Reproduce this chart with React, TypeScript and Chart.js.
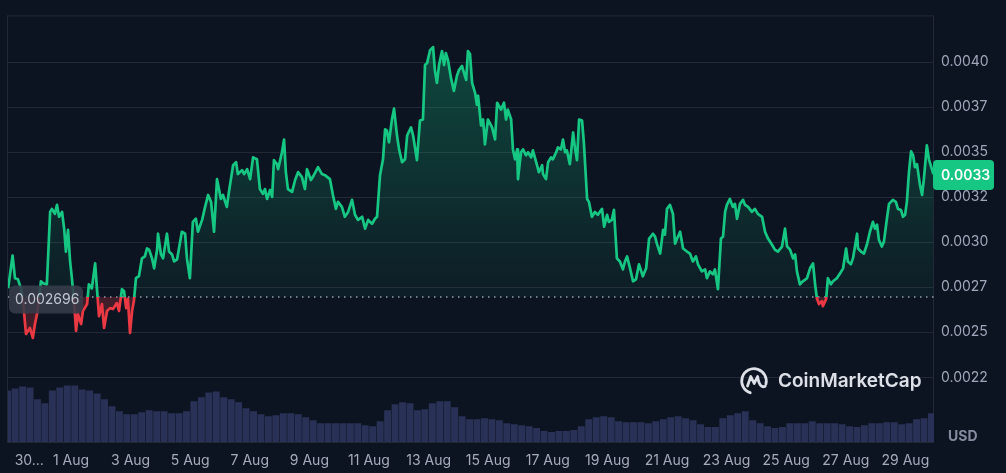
import React, { useEffect, useRef } from "react";
import { Chart, registerables } from "chart.js";

Chart.register(...registerables);

// ---- data (time in days of August; 0 = 31 Jul 00:00) ----
const priceDays = [
  -1.11, -0.96, -0.88, -0.78, -0.68, -0.61, -0.51, -0.38, -0.28, -0.21,
  -0.14, -0.07, -0.01, 0.06, 0.19, 0.3, 0.36, 0.46, 0.53, 0.6,
  0.7, 0.77, 0.83, 0.9, 0.97, 1.03, 1.1, 1.17, 1.23, 1.34,
  1.4, 1.54, 1.6, 1.7, 1.81, 1.87, 1.94, 2.04, 2.11, 2.21,
  2.31, 2.41, 2.54, 2.61, 2.71, 2.78, 2.85, 2.91, 2.98, 3.05,
  3.11, 3.18, 3.28, 3.38, 3.48, 3.55, 3.62, 3.72, 3.79, 3.89,
  3.92, 4.02, 4.09, 4.22, 4.29, 4.39, 4.46, 4.56, 4.72, 4.83,
  4.89, 4.99, 5.09, 5.19, 5.26, 5.4, 5.5, 5.6, 5.7, 5.8,
  5.9, 6.03, 6.1, 6.23, 6.3, 6.44, 6.54, 6.6, 6.74, 6.81,
  6.91, 7.01, 7.11, 7.24, 7.34, 7.44, 7.51, 7.58, 7.68, 7.75,
  7.81, 7.91, 7.95, 8.08, 8.15, 8.21, 8.28, 8.42, 8.52, 8.62,
  8.75, 8.85, 8.92, 9.05, 9.15, 9.29, 9.42, 9.52, 9.69, 9.79,
  9.89, 9.96, 10.09, 10.19, 10.3, 10.43, 10.53, 10.63, 10.77, 10.87,
  10.97, 11.1, 11.2, 11.27, 11.37, 11.47, 11.54, 11.6, 11.67, 11.77,
  11.84, 11.94, 12.01, 12.11, 12.21, 12.28, 12.41, 12.48, 12.61, 12.71,
  12.81, 12.88, 12.95, 13.05, 13.15, 13.21, 13.28, 13.35, 13.45, 13.52,
  13.58, 13.65, 13.75, 13.85, 13.95, 14.02, 14.12, 14.19, 14.26, 14.32,
  14.39, 14.46, 14.56, 14.62, 14.66, 14.76, 14.83, 14.89, 14.99, 15.13,
  15.23, 15.3, 15.43, 15.53, 15.6, 15.66, 15.77, 15.83, 15.9, 15.97,
  16.0, 16.1, 16.17, 16.27, 16.34, 16.44, 16.5, 16.64, 16.7, 16.81,
  16.84, 16.94, 17.01, 17.11, 17.17, 17.28, 17.34, 17.44, 17.51, 17.58,
  17.64, 17.74, 17.85, 17.91, 17.98, 18.05, 18.15, 18.21, 18.32, 18.38,
  18.48, 18.58, 18.68, 18.82, 18.89, 18.99, 19.05, 19.15, 19.22, 19.32,
  19.42, 19.52, 19.59, 19.66, 19.76, 19.86, 19.96, 20.06, 20.19, 20.3,
  20.4, 20.53, 20.6, 20.66, 20.77, 20.87, 20.93, 21.0, 21.1, 21.2,
  21.27, 21.34, 21.44, 21.54, 21.67, 21.77, 21.87, 21.97, 22.04, 22.17,
  22.28, 22.34, 22.44, 22.54, 22.61, 22.71, 22.81, 22.88, 22.95, 23.01,
  23.11, 23.21, 23.28, 23.35, 23.45, 23.55, 23.62, 23.72, 23.85, 23.95,
  24.05, 24.19, 24.29, 24.39, 24.52, 24.62, 24.72, 24.86, 24.96, 25.03,
  25.13, 25.23, 25.3, 25.36, 25.46, 25.56, 25.7, 25.8, 25.9, 25.97,
  26.03, 26.1, 26.2, 26.23, 26.34, 26.4, 26.5, 26.57, 26.7, 26.81,
  26.91, 27.01, 27.07, 27.17, 27.24, 27.38, 27.41, 27.51, 27.61, 27.71,
  27.81, 27.91, 27.98, 28.05, 28.11, 28.21, 28.28, 28.38, 28.45, 28.58,
  28.68, 28.75, 28.85, 28.92, 28.99, 29.05, 29.12, 29.19, 29.26, 29.32,
  29.39, 29.49, 29.56, 29.62, 29.72, 29.79, 29.89, 29.94,
];

const priceValues = [
  0.002744, 0.002926, 0.0028, 0.002794, 0.002744, 0.002673, 0.002491, 0.002524, 0.002469, 0.002546,
  0.002601, 0.002689, 0.002783, 0.002772, 0.002766, 0.003168, 0.003185, 0.003157, 0.003207, 0.003141,
  0.003168, 0.003075, 0.002948, 0.003069, 0.002893, 0.0028, 0.002673, 0.002508, 0.002601, 0.002546,
  0.002618, 0.002656, 0.002766, 0.002744, 0.002882, 0.002744, 0.00259, 0.002656, 0.002524, 0.002618,
  0.002634, 0.002629, 0.002662, 0.002618, 0.002739, 0.002728, 0.002634, 0.002684, 0.002497, 0.002618,
  0.002673, 0.0028, 0.002811, 0.00291, 0.002921, 0.002965, 0.002959, 0.00291, 0.002855, 0.002959,
  0.003047, 0.002932, 0.00291, 0.003047, 0.002948, 0.002932, 0.002893, 0.002904, 0.003058, 0.003047,
  0.00291, 0.0028, 0.003113, 0.00313, 0.003058, 0.003124, 0.003196, 0.003262, 0.003224, 0.003058,
  0.00335, 0.00324, 0.003262, 0.003196, 0.003279, 0.003427, 0.003444, 0.003378, 0.0034, 0.003378,
  0.003405, 0.00335, 0.003471, 0.00346, 0.003295, 0.003268, 0.003295, 0.00324, 0.00329, 0.003251,
  0.003455, 0.003433, 0.003405, 0.003499, 0.00357, 0.003389, 0.003295, 0.003279, 0.003345, 0.003389,
  0.003361, 0.003295, 0.003405, 0.003345, 0.003372, 0.003416, 0.003378, 0.003372, 0.00335, 0.003262,
  0.003185, 0.003224, 0.003196, 0.003141, 0.003168, 0.003235, 0.003152, 0.003124, 0.003141, 0.003075,
  0.003124, 0.003102, 0.00313, 0.003141, 0.003372, 0.00346, 0.003626, 0.00362, 0.003554, 0.003681,
  0.003741, 0.003592, 0.003515, 0.003444, 0.00346, 0.003592, 0.003637, 0.003592, 0.003455, 0.003675,
  0.003681, 0.003983, 0.003994, 0.004066, 0.004083, 0.003956, 0.003884, 0.003983, 0.004061, 0.003983,
  0.00405, 0.004011, 0.003912, 0.00384, 0.003923, 0.003956, 0.003978, 0.003939, 0.003901, 0.004061,
  0.004044, 0.003884, 0.003829, 0.003763, 0.003813, 0.003648, 0.003681, 0.003543, 0.003681, 0.003637,
  0.00357, 0.003774, 0.003736, 0.003774, 0.003681, 0.003736, 0.003681, 0.003515, 0.00346, 0.003515,
  0.00335, 0.003499, 0.003515, 0.003482, 0.003499, 0.003471, 0.00351, 0.003427, 0.003389, 0.003427,
  0.003378, 0.00335, 0.003444, 0.003471, 0.00346, 0.003499, 0.003526, 0.003515, 0.00357, 0.003499,
  0.00351, 0.003433, 0.003609, 0.003526, 0.003455, 0.003681, 0.003675, 0.003554, 0.00324, 0.003224,
  0.003141, 0.003168, 0.003152, 0.003185, 0.003086, 0.003152, 0.003113, 0.003124, 0.003179, 0.00291,
  0.002893, 0.002849, 0.002893, 0.002921, 0.002855, 0.002783, 0.002794, 0.002877, 0.002811, 0.002855,
  0.00302, 0.003047, 0.003031, 0.002992, 0.002937, 0.003069, 0.003042, 0.003185, 0.003207, 0.003157,
  0.002992, 0.00302, 0.003058, 0.002965, 0.002948, 0.002937, 0.002893, 0.002921, 0.002877, 0.002838,
  0.002849, 0.0028, 0.002838, 0.002822, 0.002849, 0.002739, 0.00302, 0.003031, 0.003168, 0.003207,
  0.00324, 0.003196, 0.003213, 0.00313, 0.003213, 0.003235, 0.003207, 0.003196, 0.003168, 0.003185,
  0.003157, 0.003141, 0.003058, 0.00302, 0.002987, 0.002959, 0.002948, 0.002976, 0.003075, 0.002976,
  0.002959, 0.00291, 0.002932, 0.002838, 0.002766, 0.002783, 0.0028, 0.002855, 0.002882, 0.002766,
  0.002689, 0.002656, 0.002673, 0.002645, 0.002684, 0.0028, 0.002766, 0.002783, 0.0028, 0.002827,
  0.002855, 0.002965, 0.002893, 0.002877, 0.00291, 0.003047, 0.002965, 0.002948, 0.002937, 0.002987,
  0.003058, 0.003113, 0.003075, 0.003097, 0.003014, 0.002976, 0.003003, 0.00313, 0.003213, 0.003235,
  0.003224, 0.003185, 0.003179, 0.003141, 0.003152, 0.003224, 0.003389, 0.003504, 0.003482, 0.003416,
  0.003433, 0.003317, 0.003262, 0.00335, 0.003537, 0.00346, 0.003405, 0.003378,
];

// 24h volume, thousand USD, one bar every 6 hours
const volStartDay = -1.125;
const volStepDay = 0.25;
const volumesK = [
  52, 54, 56, 55, 43, 39, 52, 55, 57, 57,
  53, 52, 49, 43, 36, 31, 28, 28, 30, 32,
  31, 31, 29, 29, 31, 41, 45, 50, 51, 45,
  43, 40, 34, 31, 28, 26, 27, 29, 29, 28,
  25, 22, 19, 19, 19, 19, 19, 19, 17, 16,
  21, 32, 38, 40, 39, 32, 33, 39, 41, 41,
  35, 26, 23, 23, 24, 23, 22, 19, 18, 17,
  16, 14, 11, 10, 11, 11, 12, 16, 23, 25,
  26, 25, 21, 20, 20, 20, 19, 21, 23, 25,
  26, 24, 22, 18, 15, 15, 24, 27, 29, 31,
  22, 19, 16, 14, 15, 19, 19, 19, 21, 19,
  19, 19, 18, 16, 15, 17, 19, 19, 20, 20,
  18, 19, 23, 24, 29,
];

const baseline = 0.002696;
const baselineLabel = "0.002696";
const lastPriceLabel = "0.0033";
const currencyLabel = "USD";
const brandLabel = "CoinMarketCap";

const yTickValues = [0.00225, 0.0025, 0.00275, 0.003, 0.00325, 0.0035, 0.00375, 0.004];
const yTickLabels = ["0.0022", "0.0025", "0.0027", "0.0030", "0.0032", "0.0035", "0.0037", "0.0040"];
const xTickDays = [-0.4, 1, 3, 5, 7, 9, 11, 13, 15, 17, 19, 21, 23, 25, 27, 29];
const xTickLabels = ["30...", "1 Aug", "3 Aug", "5 Aug", "7 Aug", "9 Aug", "11 Aug", "13 Aug", "15 Aug", "17 Aug", "19 Aug", "21 Aug", "23 Aug", "25 Aug", "27 Aug", "29 Aug"];

const xMin = -1.114;
const xMax = 29.96;
const yMin = 0.001891;
const yMax = 0.0042588;
const volAxisMax = 430;

// ---- styles ----
const GREEN = "#16c784";
const RED = "#ea3943";
const BG = "#0d1421";
const GRID = "#232836";
const FONT = "Inter, 'Noto Sans', sans-serif";

function drawLogo(ctx: CanvasRenderingContext2D, cx: number, cy: number) {
  ctx.save();
  ctx.strokeStyle = "#dde0e7";
  ctx.lineWidth = 2.8;
  ctx.lineCap = "round";
  ctx.lineJoin = "round";
  ctx.beginPath();
  ctx.arc(cx, cy, 12.3, 0.6 * Math.PI, 2.08 * Math.PI);
  ctx.stroke();
  ctx.beginPath();
  ctx.moveTo(cx - 6.5, cy + 5);
  ctx.lineTo(cx - 3.2, cy - 4.5);
  ctx.lineTo(cx + 0.2, cy + 2.5);
  ctx.lineTo(cx + 3.6, cy - 4.5);
  ctx.quadraticCurveTo(cx + 5.5, cy + 8, cx + 11.2, cy + 5.2);
  ctx.stroke();
  ctx.fillStyle = "#dde0e7";
  ctx.font = `600 19px ${FONT}`;
  ctx.textAlign = "left";
  ctx.textBaseline = "middle";
  ctx.fillText(brandLabel, cx + 24, cy + 0.5);
  ctx.restore();
}

const overlayPlugin = {
  id: "cmcOverlay",
  beforeDatasetsDraw(chart: any) {
    const { ctx, chartArea: a } = chart;
    ctx.save();
    ctx.strokeStyle = GRID;
    ctx.lineWidth = 1;
    ctx.strokeRect(a.left - 0.5, a.top + 0.5, a.right - a.left, a.bottom - a.top);
    ctx.restore();
    drawLogo(ctx, a.right - 180, a.bottom - 61);
  },
  afterDatasetsDraw(chart: any) {
    const { ctx, chartArea: a, scales } = chart;
    const yb = scales.y.getPixelForValue(baseline);
    ctx.save();
    // baseline label
    ctx.fillStyle = "rgba(55,60,74,0.88)";
    ctx.beginPath();
    (ctx as any).roundRect(a.left + 1, yb - 11.5, 74, 28, 6);
    ctx.fill();
    ctx.fillStyle = "#c0c5d0";
    ctx.font = `14px ${FONT}`;
    ctx.textAlign = "left";
    ctx.textBaseline = "middle";
    ctx.fillText(baselineLabel, a.left + 7, yb + 2.5);
    // current price badge
    const yl = scales.y.getPixelForValue(priceValues[priceValues.length - 1]);
    ctx.fillStyle = GREEN;
    ctx.beginPath();
    (ctx as any).roundRect(a.right - 1, yl - 14, 61, 30, 4);
    ctx.fill();
    ctx.fillStyle = "#ffffff";
    ctx.font = `600 14px ${FONT}`;
    ctx.fillText(lastPriceLabel, a.right + 7, yl + 1.5);
    // currency
    ctx.fillStyle = "#858ca0";
    ctx.font = `700 14px ${FONT}`;
    ctx.fillText(currencyLabel, a.right + 14, a.bottom - 5);
    ctx.restore();
  },
};

export default function App() {
  const ref = useRef<HTMLCanvasElement>(null);

  useEffect(() => {
    document.body.style.margin = "0";
    document.body.style.background = BG;
    const canvas = ref.current!;
    Chart.defaults.font.family = FONT;

    const priceData = priceDays.map((d, i) => ({ x: d, y: priceValues[i] }));
    const volData = volumesK.map((v, i) => ({ x: volStartDay + i * volStepDay, y: v }));

    const chart = new Chart(canvas, {
      type: "line",
      data: {
        datasets: [
          {
            type: "line",
            label: "Price",
            data: priceData,
            yAxisID: "y",
            borderColor: GREEN,
            borderWidth: 2.7,
            pointRadius: 0,
            tension: 0,
            borderJoinStyle: "round",
            fill: { value: baseline, above: "rgba(22,199,132,0.15)", below: "rgba(234,57,67,0.22)" },
            order: 1,
          } as any,
          {
            type: "line",
            label: "Baseline",
            data: [
              { x: xMin, y: baseline },
              { x: xMax, y: baseline },
            ],
            yAxisID: "y",
            borderColor: "rgba(175,181,196,0.85)",
            borderWidth: 1.5,
            borderDash: [1.5, 4.5],
            pointRadius: 0,
            fill: false,
            order: 2,
          } as any,
          {
            type: "bar",
            label: "Volume",
            data: volData,
            yAxisID: "yVol",
            backgroundColor: "rgb(41,49,86)",
            barPercentage: 0.93,
            categoryPercentage: 1,
            order: 3,
          } as any,
        ],
      },
      options: {
        animation: false,
        responsive: false,
        maintainAspectRatio: false,
        layout: { padding: { left: 8, top: 12, right: 0, bottom: 0 } },
        plugins: { legend: { display: false }, tooltip: { enabled: false } },
        scales: {
          x: {
            type: "linear",
            offset: false,
            min: xMin,
            max: xMax,
            grid: { display: false, drawTicks: false, offset: false },
            border: { display: false },
            afterFit: (s: any) => {
              s.height = 31;
            },
            afterBuildTicks: (s: any) => {
              s.ticks = xTickDays.map((v) => ({ value: v }));
            },
            ticks: {
              autoSkip: false,
              maxRotation: 0,
              padding: 10,
              color: "#a5abbd",
              font: { size: 14, family: FONT },
              callback: (_v: any, i: number) => xTickLabels[i],
            },
          },
          y: {
            type: "linear",
            position: "right",
            min: yMin,
            max: yMax,
            afterFit: (s: any) => {
              s.width = 72;
            },
            afterBuildTicks: (s: any) => {
              s.ticks = yTickValues.map((v) => ({ value: v }));
            },
            grid: { color: GRID, drawTicks: false, lineWidth: 1 },
            border: { display: false },
            ticks: {
              padding: 7,
              color: "#a1a7bb",
              font: { size: 14, family: FONT },
              callback: (_v: any, i: number) => yTickLabels[i],
            },
          },
          yVol: {
            type: "linear",
            display: false,
            min: 0,
            max: volAxisMax,
          },
        },
      } as any,
      plugins: [overlayPlugin],
    });

    // gradients that depend on the scales
    const a = chart.chartArea;
    const yb = chart.scales.y.getPixelForValue(baseline);
    const c = chart.ctx;
    const stop = Math.min(1, Math.max(0, (yb - a.top) / (a.bottom - a.top)));
    const lineGrad = c.createLinearGradient(0, a.top, 0, a.bottom);
    lineGrad.addColorStop(0, GREEN);
    lineGrad.addColorStop(stop, GREEN);
    lineGrad.addColorStop(stop, RED);
    lineGrad.addColorStop(1, RED);
    const fillGrad = c.createLinearGradient(0, a.top, 0, yb);
    fillGrad.addColorStop(0, "rgba(22,199,132,0.32)");
    fillGrad.addColorStop(1, "rgba(22,199,132,0.05)");
    const ds: any = chart.data.datasets[0];
    ds.borderColor = lineGrad;
    ds.fill = { value: baseline, above: fillGrad, below: "rgba(234,57,67,0.24)" };
    chart.update("none");

    return () => chart.destroy();
  }, []);

  return (
    <div style={{ width: 1006, height: 473, background: BG }}>
      <canvas ref={ref} width={1006} height={473} style={{ display: "block" }} />
    </div>
  );
}
